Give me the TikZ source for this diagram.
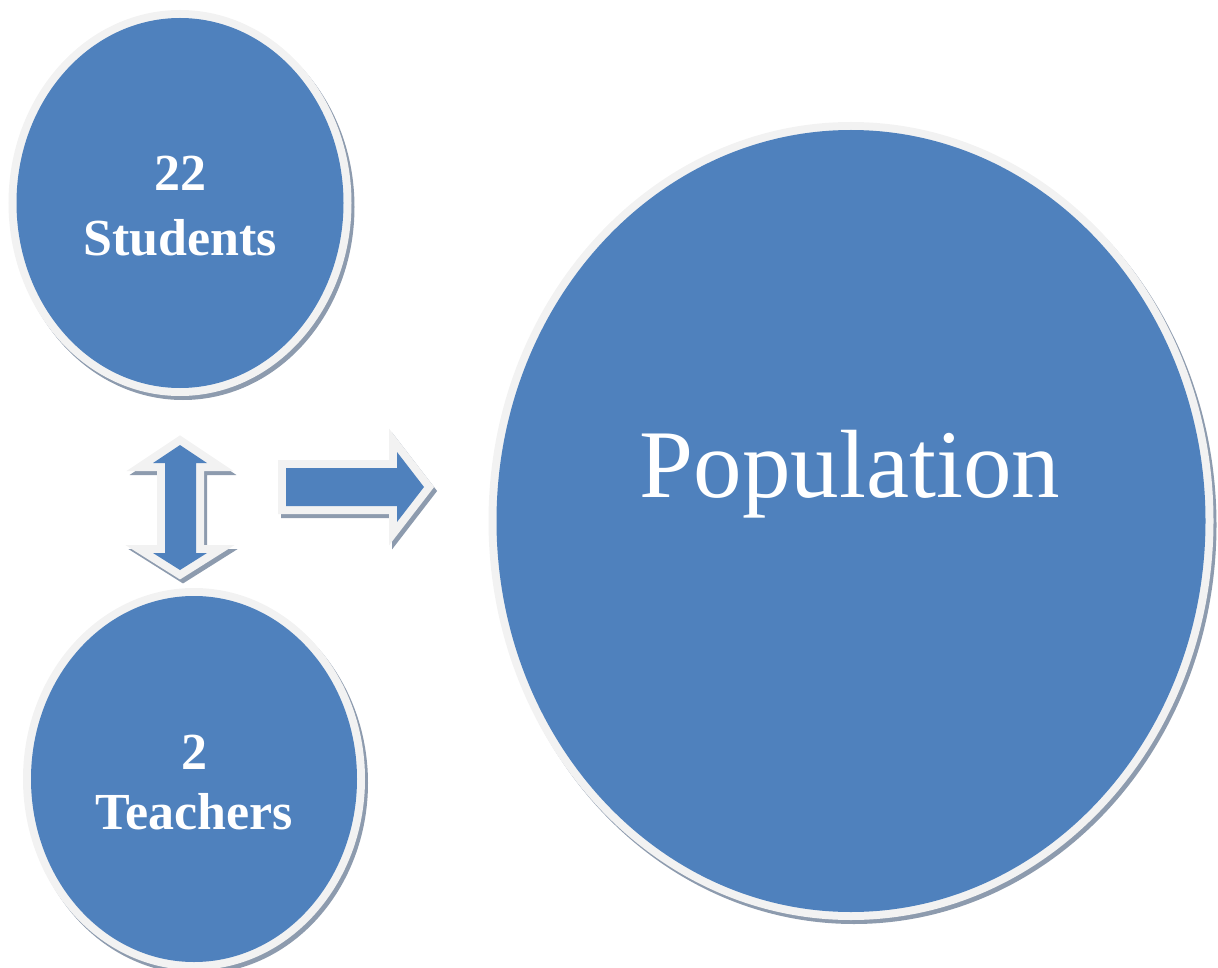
\documentclass[tikz,border=0pt]{standalone}
\usepackage{fontspec}
\setmainfont{Liberation Serif}
\usetikzlibrary{shapes.geometric}
\definecolor{blu}{HTML}{4F81BD}
\definecolor{rimc}{HTML}{F2F2F2}
\definecolor{shd}{HTML}{8D9BAE}
\begin{document}
\begin{tikzpicture}[x=1pt,y=-1pt,
  bubble/.style={ellipse, inner sep=0pt, outer sep=0pt, fill=blu,
    preaction={draw=shd, line width=16pt, transform canvas={shift={(3pt,-4pt)}}},
    preaction={draw=rimc, line width=16pt}},
  blockarrow/.style={fill=blu, line join=miter,
    preaction={draw=shd, fill=shd, line width=16pt, line join=miter, transform canvas={shift={(3pt,-4pt)}}},
    preaction={draw=rimc, fill=rimc, line width=16pt, line join=miter}},
  lbl/.style={text=white, anchor=base, inner sep=0pt, font=\bfseries\fontsize{52}{62}\selectfont},
  biglbl/.style={text=white, anchor=base, inner sep=0pt, font=\fontsize{97}{116}\selectfont}
]
\useasboundingbox (0,0) rectangle (1218,968);
% circles
\node[bubble, minimum width=327pt, minimum height=370pt] (students) at (180,203) {};
\node[bubble, minimum width=326pt, minimum height=366pt] (teachers) at (194,779) {};
\node[bubble, minimum width=709pt, minimum height=782pt] (population) at (851,521) {};
% labels
\node[lbl] (n22) at (180,191) {22};
\node[lbl] (stud) at (180,256) {Students};
\node[lbl] (n2) at (194,769) {2};
\node[lbl] (teach) at (194,829) {Teachers};
\node[biglbl] (pop) at (850,497) {Population};
% double vertical arrow
\path[blockarrow] (180,445) -- (153,463) -- (165,463) -- (165,553) -- (153,553)
  -- (180,570) -- (207,553) -- (196,553) -- (196,463) -- (207,463) -- cycle;
% right arrow
\path[blockarrow] (286,468) -- (397,468) -- (397,452) -- (424,487) -- (397,522)
  -- (397,506) -- (286,506) -- cycle;
\end{tikzpicture}
\end{document}
